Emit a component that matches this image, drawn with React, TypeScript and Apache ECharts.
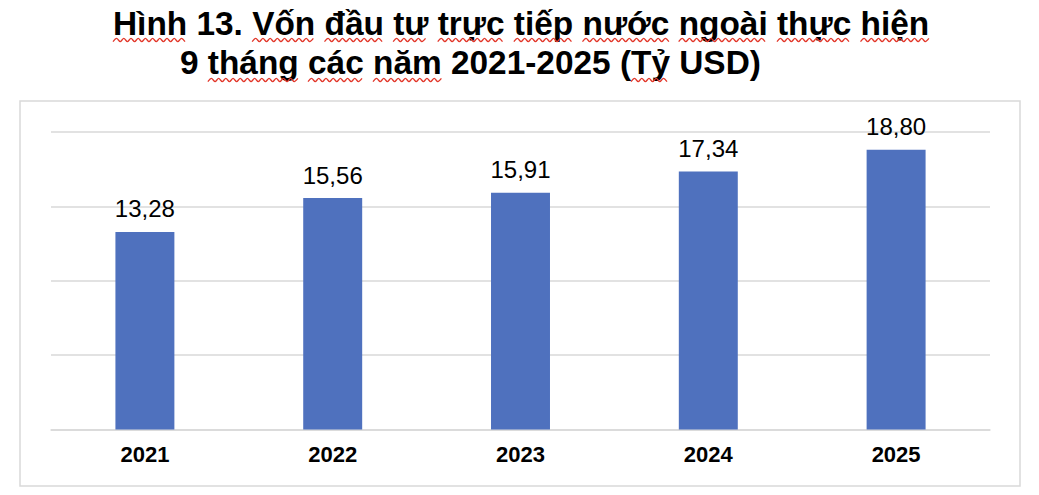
import React, { useEffect, useRef } from "react";
import * as echarts from "echarts";

const years = ["2021", "2022", "2023", "2024", "2025"];
const fdiValues = [13.28, 15.56, 15.91, 17.34, 18.8];
const titleLine1 = "Hình 13. Vốn đầu tư trực tiếp nước ngoài thực hiện";
const titleLine2 = "9 tháng các năm 2021-2025 (Tỷ USD)";
const line1Flagged = ["Hình", "Vốn", "đầu", "tư", "trực", "tiếp", "nước", "ngoài", "thực", "hiện"];
const line2Flagged = ["tháng", "các", "năm", "(Tỷ"];

const FONT = "'Liberation Sans', Arial, sans-serif";
const TITLE_SIZE = 33.4;

function waveElements(text: string, flagged: string[], x0: number, yWave: number) {
  const ctx = document.createElement("canvas").getContext("2d")!;
  ctx.font = `bold ${TITLE_SIZE}px ${FONT}`;
  const els: any[] = [];
  const words = text.split(" ");
  let x = x0;
  const spaceW = ctx.measureText(" ").width;
  for (const w of words) {
    const ww = ctx.measureText(w).width;
    if (flagged.includes(w)) {
      let start = x;
      let width = ww;
      if (w.startsWith("(")) {
        const pw = ctx.measureText("(").width;
        start += pw;
        width -= pw;
      }
      const pts: number[][] = [];
      const step = 3.6;
      let i = 0;
      for (let px = start; px <= start + width + 0.5; px += step, i++) {
        pts.push([px, yWave + (i % 2 === 0 ? 1.6 : -1.6)]);
      }
      els.push({
        type: "polyline",
        shape: { points: pts, smooth: 0.3 },
        style: { stroke: "#E2382B", lineWidth: 1.3, fill: "none" },
        silent: true,
      });
    }
    x += ww + spaceW;
  }
  return els;
}

export default function App() {
  const ref = useRef<HTMLDivElement>(null);
  useEffect(() => {
    if (!ref.current) return;
    const chart = echarts.init(ref.current, undefined, { renderer: "svg" });
    const l1x = 113;
    const l2x = 180;
    chart.setOption({
      animation: false,
      backgroundColor: "#ffffff",
      grid: { left: 51, right: 49, top: 132, bottom: 65.5, containLabel: false },
      xAxis: {
        type: "category",
        data: years,
        axisLine: { show: true, lineStyle: { color: "#D9D9D9", width: 1.5 } },
        axisTick: { show: false },
        axisLabel: {
          color: "#000",
          fontFamily: FONT,
          fontWeight: "bold",
          fontSize: 22,
          margin: 14,
        },
      },
      yAxis: {
        type: "value",
        min: 0,
        max: 20,
        interval: 5,
        axisLabel: { show: false },
        axisLine: { show: false },
        axisTick: { show: false },
        splitLine: { lineStyle: { color: "#D9D9D9", width: 1.5 } },
      },
      series: [
        {
          type: "bar",
          data: fdiValues,
          barWidth: "31.4%",
          itemStyle: { color: "#4F71BE" },
          label: {
            show: true,
            position: "top",
            distance: 11,
            color: "#000",
            fontFamily: FONT,
            fontSize: 24,
            formatter: (p: any) => Number(p.value).toFixed(2).replace(".", ","),
          },
        },
      ],
      graphic: [
        {
          type: "rect",
          shape: { x: 20, y: 101, width: 1000, height: 385 },
          style: { fill: "none", stroke: "#D9D9D9", lineWidth: 1.5 },
          silent: true,
          z: -1,
        },
        {
          type: "text",
          x: l1x,
          y: 23.4,
          style: {
            text: titleLine1,
            fontFamily: FONT,
            fontWeight: "bold",
            fontSize: TITLE_SIZE,
            fill: "#000",
            align: "left",
            verticalAlign: "middle",
          },
        },
        {
          type: "text",
          x: l2x,
          y: 62.4,
          style: {
            text: titleLine2,
            fontFamily: FONT,
            fontWeight: "bold",
            fontSize: TITLE_SIZE,
            fill: "#000",
            align: "left",
            verticalAlign: "middle",
          },
        },
        ...waveElements(titleLine1, line1Flagged, l1x, 40),
        ...waveElements(titleLine2, line2Flagged, l2x, 80),
      ],
    });
    return () => chart.dispose();
  }, []);
  return (
    <div
      ref={ref}
      style={{ position: "fixed", left: 0, top: 0, width: 1039, height: 495 }}
    />
  );
}
